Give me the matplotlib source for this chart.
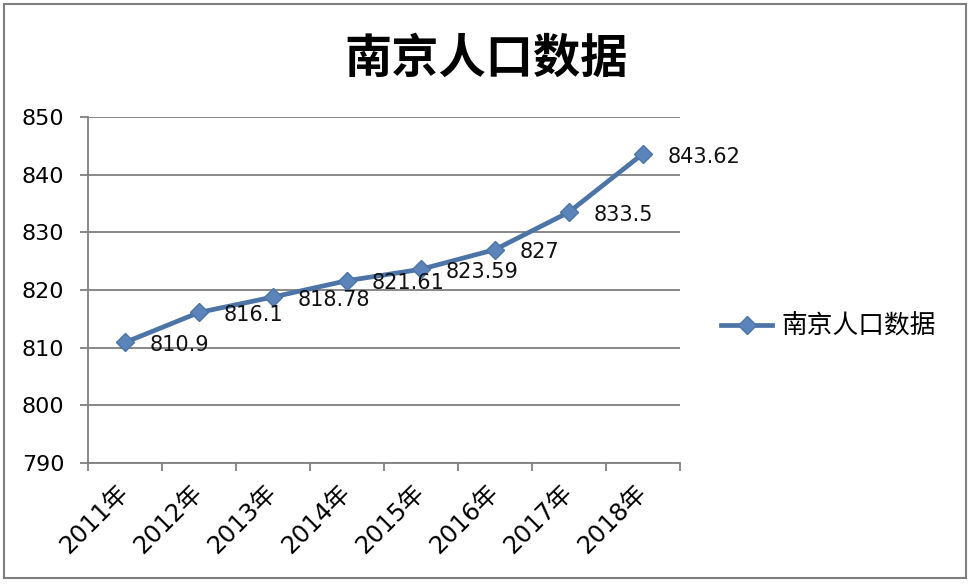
import matplotlib.pyplot as plt
import matplotlib.transforms as mtransforms
import numpy as np
from matplotlib.patches import Rectangle

plt.rcParams['font.family'] = ['DejaVu Sans', 'Noto Sans CJK SC']

years = ["2011年", "2012年", "2013年", "2014年", "2015年", "2016年", "2017年", "2018年"]
population = [810.9, 816.1, 818.78, 821.61, 823.59, 827, 833.5, 843.62]
labels = ["810.9", "816.1", "818.78", "821.61", "823.59", "827", "833.5", "843.62"]

fig = plt.figure(figsize=(9.72, 5.84), dpi=100)
ax = fig.add_axes([0.0905, 0.2072, 0.609, 0.5925])

x = np.arange(len(years))
ax.plot(x, population, color="#4C74A7", lw=3.4, marker="D", markersize=9.5,
        markerfacecolor="#5A84BA", markeredgecolor="#4C74A7", label="南京人口数据",
        zorder=3)

for xi, yi, t in zip(x, population, labels):
    ax.annotate(t, (xi, yi), xytext=(18, -2), textcoords="offset points",
                ha="left", va="center", fontsize=15, color="#111111")

ax.set_xlim(-0.5, len(years) - 0.5)
ax.set_ylim(790, 850)
ax.set_yticks(range(790, 851, 10))
ax.grid(axis="y", color="#7f7f7f", lw=1.3)
ax.set_axisbelow(True)

# category labels, rotated, right end placed just below-left of each category centre
ax.set_xticks(x)
ax.set_xticklabels([])
lab_tr = ax.get_xaxis_transform() + mtransforms.ScaledTranslation(0.0, -0.26, fig.dpi_scale_trans)
for xi, t in zip(x, years):
    ax.text(xi, 0, t, transform=lab_tr, rotation=45, ha="right", va="center",
            rotation_mode="anchor", fontsize=17.5,
            family=['DejaVu Sans', 'Noto Sans CJK SC'])
ax.set_xticks(np.arange(-0.5, len(years)), minor=True)
ax.tick_params(axis="x", which="major", length=0)
ax.tick_params(axis="x", which="minor", length=6, color="#7f7f7f", width=1.3)
ax.tick_params(axis="y", length=6, color="#7f7f7f", width=1.3, labelsize=16, pad=11)

for s in ["top", "right"]:
    ax.spines[s].set_visible(False)
for s in ["left", "bottom"]:
    ax.spines[s].set_color("#7f7f7f")
    ax.spines[s].set_linewidth(1.3)

fig.text(0.5, 0.9, "南京人口数据", ha="center", va="center", fontsize=34,
         fontweight="bold", family="Noto Sans CJK SC")

fig.legend(loc="center left", bbox_to_anchor=(0.718, 0.44), frameon=False,
           prop={"family": "Noto Sans CJK SC", "size": 18.5}, handlelength=2.0,
           handletextpad=0.35)

fig.patches.append(Rectangle((0.004, 0.01), 0.99, 0.984, transform=fig.transFigure,
                             fill=False, edgecolor="#7f7f7f", lw=1.5))

fig.savefig("out.png", dpi=100)
